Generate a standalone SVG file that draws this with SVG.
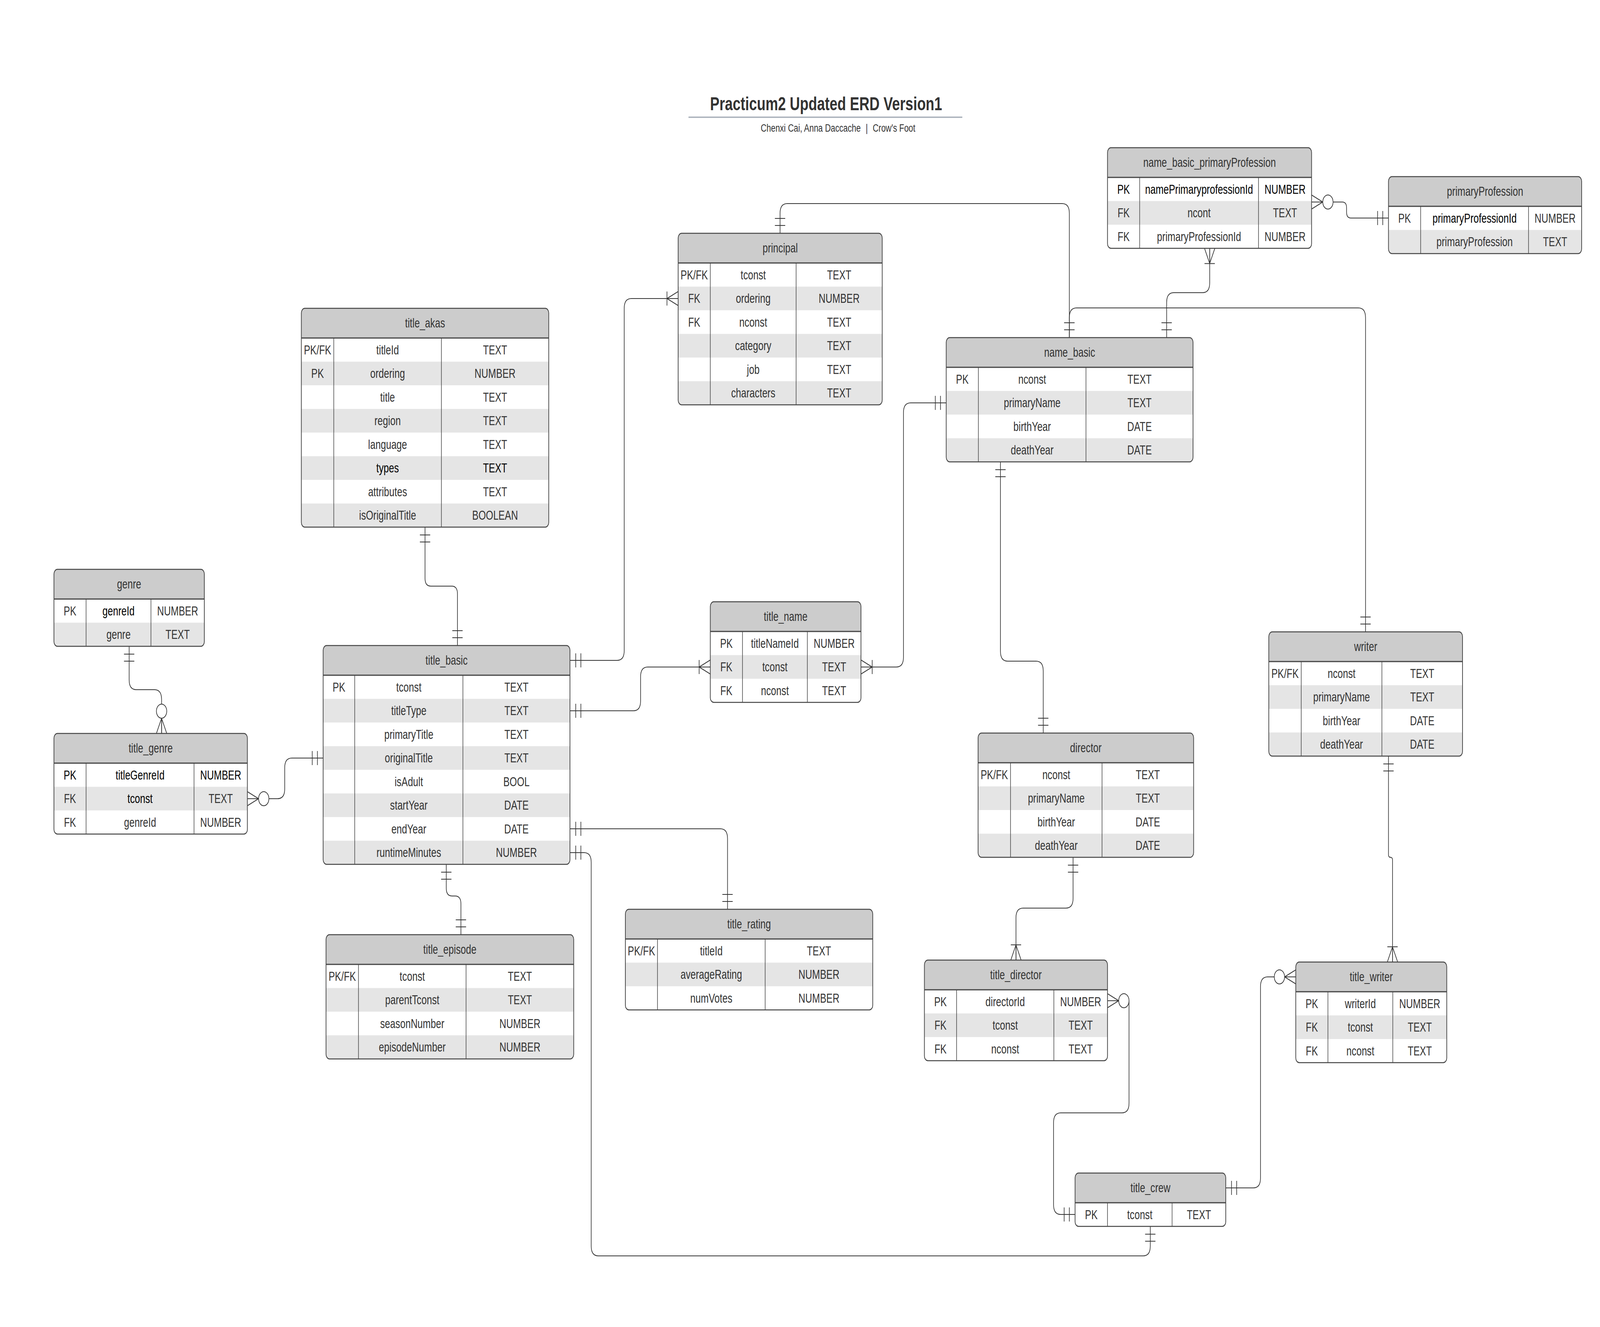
<svg xmlns="http://www.w3.org/2000/svg" width="5575" height="3396" viewBox="0 0 5575 3396" preserveAspectRatio="none">
<style>
svg{width:100vw;height:100vh}
.bg{fill:#fff}
.hd{fill:#ccc}
.alt{fill:#e5e5e5}
.bd{fill:none;stroke:#444;stroke-width:2.5}
.hl{fill:none;stroke:#444;stroke-width:3}
.dv{fill:none;stroke:#444;stroke-width:2}
text{font-family:"Liberation Sans",Arial,sans-serif;fill:#333}
.t{font-size:33px;text-anchor:middle;dominant-baseline:central}
.k{fill:#000}
.cn{fill:none;stroke:#333;stroke-width:2.2}
.mk{fill:none;stroke:#333;stroke-width:2.2}
.mc{fill:#fff;stroke:#333;stroke-width:2.2}
.ttl{font-size:49px;font-weight:bold;text-anchor:middle}
.sub{font-size:28px}
</style>
<defs>
<marker id="one" markerUnits="userSpaceOnUse" markerWidth="100" markerHeight="60" viewBox="-80 -30 100 60" refX="0" refY="0" orient="auto-start-reverse" overflow="visible">
<path class="mk" d="M-20,-18V18M-38,-18V18"/>
</marker>
<marker id="many" markerUnits="userSpaceOnUse" markerWidth="100" markerHeight="60" viewBox="-80 -30 100 60" refX="0" refY="0" orient="auto-start-reverse" overflow="visible">
<path class="mk" d="M0,-18L-39,0L0,18M0,0H-39M-39,-18V18"/>
</marker>
<marker id="zmany" markerUnits="userSpaceOnUse" markerWidth="100" markerHeight="60" viewBox="-80 -30 100 60" refX="0" refY="0" orient="auto-start-reverse" overflow="visible">
<path class="mk" d="M0,-18L-39,0L0,18M0,0H-39"/>
<circle class="mc" cx="-57" cy="0" r="18"/>
</marker>
</defs>
<rect x="0" y="0" width="5575" height="3396" fill="#fff"/>

<g id="title">
<text class="ttl" x="2878.5" y="282">Practicum2 Updated ERD Version1</text>
<line x1="2399" y1="300" x2="3353" y2="300" stroke="#a9b0ba" stroke-width="3.5"/>
<text class="sub"><tspan x="2999" y="337" text-anchor="end">Chenxi Cai, Anna Daccache</tspan><tspan x="3020" y="337" text-anchor="middle">|</tspan><tspan x="3041" y="337">Crow's Foot</tspan></text>
</g>

<g id="connectors">
<path class="cn" marker-start="url(#one)" marker-end="url(#one)" d="M2718,597 L2718,546 Q2718,521 2743,521 L3701,521 Q3726,521 3726,546 L3726,864"/>
<path class="cn" marker-start="url(#one)" marker-end="url(#one)" d="M3726,864 L3726,813 Q3726,788 3751,788 L4733,788 Q4758,788 4758,813 L4758,1617"/>
<path class="cn" marker-start="url(#many)" marker-end="url(#one)" d="M4215,635.5 L4215,724 Q4215,749 4190,749 L4090,749 Q4065,749 4065,774 L4065,864"/>
<path class="cn" marker-start="url(#zmany)" marker-end="url(#one)" d="M4570,517 L4677,517 Q4692,517 4692,532 L4692,543 Q4692,558 4707,558 L4838,558"/>
<path class="cn" marker-start="url(#one)" marker-end="url(#one)" d="M1481,1349 L1481,1480 Q1481,1500 1501,1500 L1574,1500 Q1594,1500 1594,1520 L1594,1652"/>
<path class="cn" marker-start="url(#one)" marker-end="url(#many)" d="M1986,1690 L2150,1690 Q2175,1690 2175,1665 L2175,789 Q2175,764 2200,764 L2363,764"/>
<path class="cn" marker-start="url(#one)" marker-end="url(#many)" d="M1986,1819 L2207,1819 Q2232,1819 2232,1794 L2232,1732 Q2232,1707 2257,1707 L2475,1707"/>
<path class="cn" marker-start="url(#one)" marker-end="url(#many)" d="M3297,1031 L3173,1031 Q3148,1031 3148,1056 L3148,1682 Q3148,1707 3123,1707 L3000,1707"/>
<path class="cn" marker-start="url(#one)" marker-end="url(#one)" d="M3486,1182 L3486,1667 Q3486,1692 3511,1692 L3610,1692 Q3635,1692 3635,1717 L3635,1876"/>
<path class="cn" marker-start="url(#one)" marker-end="url(#many)" d="M3739,2194 L3739,2299 Q3739,2324 3714,2324 L3565,2324 Q3540,2324 3540,2349 L3540,2457"/>
<path class="cn" marker-start="url(#one)" marker-end="url(#many)" d="M4838,1935 L4838,2187 Q4838,2194 4845,2194 Q4852,2194 4852,2201 L4852,2462"/>
<path class="cn" marker-start="url(#zmany)" marker-end="url(#one)" d="M3859,2561 L3934,2561 L3934,2823 Q3934,2848 3909,2848 L3696,2848 Q3671,2848 3671,2873 L3671,3083 Q3671,3108 3696,3108 L3746,3108"/>
<path class="cn" marker-start="url(#zmany)" marker-end="url(#one)" d="M4515,2500 L4417,2500 Q4392,2500 4392,2525 L4392,3015 Q4392,3040 4367,3040 L4271,3040"/>
<path class="cn" marker-start="url(#one)" marker-end="url(#one)" d="M1986,2121 L2510,2121 Q2535,2121 2535,2146 L2535,2327"/>
<path class="cn" marker-start="url(#one)" marker-end="url(#one)" d="M1986,2182 L2035,2182 Q2060,2182 2060,2207 L2060,3189 Q2060,3214 2085,3214 L3983,3214 Q4008,3214 4008,3189 L4008,3138.5"/>
<path class="cn" marker-start="url(#one)" marker-end="url(#one)" d="M1555,2212 L1555,2273 Q1555,2293 1575,2293 L1586,2293 Q1606,2293 1606,2313 L1606,2392"/>
<path class="cn" marker-start="url(#one)" marker-end="url(#zmany)" d="M450,1654 L450,1740 Q450,1765 475,1765 L538,1765 Q563,1765 563,1790 L563,1877"/>
<path class="cn" marker-start="url(#zmany)" marker-end="url(#one)" d="M862,2044 L967,2044 Q992,2044 992,2019 L992,1965 Q992,1940 1017,1940 L1126,1940"/>
</g>

<g id="title_akas">
<clipPath id="c1"><rect x="1050" y="789" width="862" height="560" rx="12"/></clipPath>
<g clip-path="url(#c1)">
<rect class="bg" x="1050" y="789" width="862" height="560"/>
<rect class="hd" x="1050" y="789" width="862" height="76"/>
<rect class="alt" x="1050" y="925.5" width="862" height="60.5"/>
<rect class="alt" x="1050" y="1046.5" width="862" height="60.5"/>
<rect class="alt" x="1050" y="1167.5" width="862" height="60.5"/>
<rect class="alt" x="1050" y="1288.5" width="862" height="60.5"/>
</g>
<path class="dv" d="M1163,865V1349M1538,865V1349"/>
<path class="hl" d="M1050,865H1912"/>
<rect class="bd" x="1050" y="789" width="862" height="560" rx="12"/>
<text class="t" x="1481" y="827">title_akas</text>
<text class="t" x="1106.5" y="895.25">PK/FK</text><text class="t" x="1350.5" y="895.25">titleId</text><text class="t" x="1725" y="895.25">TEXT</text>
<text class="t" x="1106.5" y="955.75">PK</text><text class="t" x="1350.5" y="955.75">ordering</text><text class="t" x="1725" y="955.75">NUMBER</text>
<text class="t" x="1350.5" y="1016.25">title</text><text class="t" x="1725" y="1016.25">TEXT</text>
<text class="t" x="1350.5" y="1076.75">region</text><text class="t" x="1725" y="1076.75">TEXT</text>
<text class="t" x="1350.5" y="1137.25">language</text><text class="t" x="1725" y="1137.25">TEXT</text>
<text class="t k" x="1350.5" y="1197.75">types</text><text class="t k" x="1725" y="1197.75">TEXT</text>
<text class="t" x="1350.5" y="1258.25">attributes</text><text class="t" x="1725" y="1258.25">TEXT</text>
<text class="t" x="1350.5" y="1318.75">isOriginalTitle</text><text class="t" x="1725" y="1318.75">BOOLEAN</text>
</g>

<g id="principal">
<clipPath id="c2"><rect x="2363" y="597" width="711" height="439" rx="12"/></clipPath>
<g clip-path="url(#c2)">
<rect class="bg" x="2363" y="597" width="711" height="439"/>
<rect class="hd" x="2363" y="597" width="711" height="76"/>
<rect class="alt" x="2363" y="733.5" width="711" height="60.5"/>
<rect class="alt" x="2363" y="854.5" width="711" height="60.5"/>
<rect class="alt" x="2363" y="975.5" width="711" height="60.5"/>
</g>
<path class="dv" d="M2475,673V1036M2774,673V1036"/>
<path class="hl" d="M2363,673H3074"/>
<rect class="bd" x="2363" y="597" width="711" height="439" rx="12"/>
<text class="t" x="2718.5" y="635">principal</text>
<text class="t" x="2419" y="703.25">PK/FK</text><text class="t" x="2624.5" y="703.25">tconst</text><text class="t" x="2924" y="703.25">TEXT</text>
<text class="t" x="2419" y="763.75">FK</text><text class="t" x="2624.5" y="763.75">ordering</text><text class="t" x="2924" y="763.75">NUMBER</text>
<text class="t" x="2419" y="824.25">FK</text><text class="t" x="2624.5" y="824.25">nconst</text><text class="t" x="2924" y="824.25">TEXT</text>
<text class="t" x="2624.5" y="884.75">category</text><text class="t" x="2924" y="884.75">TEXT</text>
<text class="t" x="2624.5" y="945.25">job</text><text class="t" x="2924" y="945.25">TEXT</text>
<text class="t" x="2624.5" y="1005.75">characters</text><text class="t" x="2924" y="1005.75">TEXT</text>
</g>

<g id="name_basic">
<clipPath id="c3"><rect x="3297" y="864" width="860" height="318" rx="12"/></clipPath>
<g clip-path="url(#c3)">
<rect class="bg" x="3297" y="864" width="860" height="318"/>
<rect class="hd" x="3297" y="864" width="860" height="76"/>
<rect class="alt" x="3297" y="1000.5" width="860" height="60.5"/>
<rect class="alt" x="3297" y="1121.5" width="860" height="60.5"/>
</g>
<path class="dv" d="M3409,940V1182M3784,940V1182"/>
<path class="hl" d="M3297,940H4157"/>
<rect class="bd" x="3297" y="864" width="860" height="318" rx="12"/>
<text class="t" x="3727" y="902">name_basic</text>
<text class="t" x="3353" y="970.25">PK</text><text class="t" x="3596.5" y="970.25">nconst</text><text class="t" x="3970.5" y="970.25">TEXT</text>
<text class="t" x="3596.5" y="1030.75">primaryName</text><text class="t" x="3970.5" y="1030.75">TEXT</text>
<text class="t" x="3596.5" y="1091.25">birthYear</text><text class="t" x="3970.5" y="1091.25">DATE</text>
<text class="t" x="3596.5" y="1151.75">deathYear</text><text class="t" x="3970.5" y="1151.75">DATE</text>
</g>

<g id="name_basic_primaryProfession">
<clipPath id="c4"><rect x="3859" y="378" width="711" height="257.5" rx="12"/></clipPath>
<g clip-path="url(#c4)">
<rect class="bg" x="3859" y="378" width="711" height="257.5"/>
<rect class="hd" x="3859" y="378" width="711" height="76"/>
<rect class="alt" x="3859" y="514.5" width="711" height="60.5"/>
</g>
<path class="dv" d="M3971,454V635.5M4385,454V635.5"/>
<path class="hl" d="M3859,454H4570"/>
<rect class="bd" x="3859" y="378" width="711" height="257.5" rx="12"/>
<text class="t" x="4214.5" y="416">name_basic_primaryProfession</text>
<text class="t k" x="3915" y="484.25">PK</text><text class="t k" x="4178" y="484.25">namePrimaryprofessionId</text><text class="t k" x="4477.5" y="484.25">NUMBER</text>
<text class="t" x="3915" y="544.75">FK</text><text class="t" x="4178" y="544.75">ncont</text><text class="t" x="4477.5" y="544.75">TEXT</text>
<text class="t" x="3915" y="605.25">FK</text><text class="t" x="4178" y="605.25">primaryProfessionId</text><text class="t" x="4477.5" y="605.25">NUMBER</text>
</g>

<g id="primaryProfession">
<clipPath id="c5"><rect x="4838" y="452" width="673" height="197" rx="12"/></clipPath>
<g clip-path="url(#c5)">
<rect class="bg" x="4838" y="452" width="673" height="197"/>
<rect class="hd" x="4838" y="452" width="673" height="76"/>
<rect class="alt" x="4838" y="588.5" width="673" height="60.5"/>
</g>
<path class="dv" d="M4950,528V649M5326,528V649"/>
<path class="hl" d="M4838,528H5511"/>
<rect class="bd" x="4838" y="452" width="673" height="197" rx="12"/>
<text class="t" x="5174.5" y="490">primaryProfession</text>
<text class="t" x="4894" y="558.25">PK</text><text class="t k" x="5138" y="558.25">primaryProfessionId</text><text class="t" x="5418.5" y="558.25">NUMBER</text>
<text class="t" x="5138" y="618.75">primaryProfession</text><text class="t" x="5418.5" y="618.75">TEXT</text>
</g>

<g id="genre">
<clipPath id="c6"><rect x="188" y="1457" width="524" height="197" rx="12"/></clipPath>
<g clip-path="url(#c6)">
<rect class="bg" x="188" y="1457" width="524" height="197"/>
<rect class="hd" x="188" y="1457" width="524" height="76"/>
<rect class="alt" x="188" y="1593.5" width="524" height="60.5"/>
</g>
<path class="dv" d="M300,1533V1654M526,1533V1654"/>
<path class="hl" d="M188,1533H712"/>
<rect class="bd" x="188" y="1457" width="524" height="197" rx="12"/>
<text class="t" x="450" y="1495">genre</text>
<text class="t" x="244" y="1563.25">PK</text><text class="t k" x="413" y="1563.25">genreId</text><text class="t" x="619" y="1563.25">NUMBER</text>
<text class="t" x="413" y="1623.75">genre</text><text class="t" x="619" y="1623.75">TEXT</text>
</g>

<g id="title_genre">
<clipPath id="c7"><rect x="188" y="1877" width="674" height="257.5" rx="12"/></clipPath>
<g clip-path="url(#c7)">
<rect class="bg" x="188" y="1877" width="674" height="257.5"/>
<rect class="hd" x="188" y="1877" width="674" height="76"/>
<rect class="alt" x="188" y="2013.5" width="674" height="60.5"/>
</g>
<path class="dv" d="M300,1953V2134.5M676,1953V2134.5"/>
<path class="hl" d="M188,1953H862"/>
<rect class="bd" x="188" y="1877" width="674" height="257.5" rx="12"/>
<text class="t" x="525" y="1915">title_genre</text>
<text class="t k" x="244" y="1983.25">PK</text><text class="t k" x="488" y="1983.25">titleGenreId</text><text class="t k" x="769" y="1983.25">NUMBER</text>
<text class="t" x="244" y="2043.75">FK</text><text class="t k" x="488" y="2043.75">tconst</text><text class="t" x="769" y="2043.75">TEXT</text>
<text class="t" x="244" y="2104.25">FK</text><text class="t" x="488" y="2104.25">genreId</text><text class="t" x="769" y="2104.25">NUMBER</text>
</g>

<g id="title_basic">
<clipPath id="c8"><rect x="1126" y="1652" width="860" height="560" rx="12"/></clipPath>
<g clip-path="url(#c8)">
<rect class="bg" x="1126" y="1652" width="860" height="560"/>
<rect class="hd" x="1126" y="1652" width="860" height="76"/>
<rect class="alt" x="1126" y="1788.5" width="860" height="60.5"/>
<rect class="alt" x="1126" y="1909.5" width="860" height="60.5"/>
<rect class="alt" x="1126" y="2030.5" width="860" height="60.5"/>
<rect class="alt" x="1126" y="2151.5" width="860" height="60.5"/>
</g>
<path class="dv" d="M1236,1728V2212M1613,1728V2212"/>
<path class="hl" d="M1126,1728H1986"/>
<rect class="bd" x="1126" y="1652" width="860" height="560" rx="12"/>
<text class="t" x="1556" y="1690">title_basic</text>
<text class="t" x="1181" y="1758.25">PK</text><text class="t" x="1424.5" y="1758.25">tconst</text><text class="t" x="1799.5" y="1758.25">TEXT</text>
<text class="t" x="1424.5" y="1818.75">titleType</text><text class="t" x="1799.5" y="1818.75">TEXT</text>
<text class="t" x="1424.5" y="1879.25">primaryTitle</text><text class="t" x="1799.5" y="1879.25">TEXT</text>
<text class="t" x="1424.5" y="1939.75">originalTitle</text><text class="t" x="1799.5" y="1939.75">TEXT</text>
<text class="t" x="1424.5" y="2000.25">isAdult</text><text class="t" x="1799.5" y="2000.25">BOOL</text>
<text class="t" x="1424.5" y="2060.75">startYear</text><text class="t" x="1799.5" y="2060.75">DATE</text>
<text class="t" x="1424.5" y="2121.25">endYear</text><text class="t" x="1799.5" y="2121.25">DATE</text>
<text class="t" x="1424.5" y="2181.75">runtimeMinutes</text><text class="t" x="1799.5" y="2181.75">NUMBER</text>
</g>

<g id="title_name">
<clipPath id="c9"><rect x="2475" y="1540" width="525" height="257.5" rx="12"/></clipPath>
<g clip-path="url(#c9)">
<rect class="bg" x="2475" y="1540" width="525" height="257.5"/>
<rect class="hd" x="2475" y="1540" width="525" height="76"/>
<rect class="alt" x="2475" y="1676.5" width="525" height="60.5"/>
</g>
<path class="dv" d="M2587,1616V1797.5M2813,1616V1797.5"/>
<path class="hl" d="M2475,1616H3000"/>
<rect class="bd" x="2475" y="1540" width="525" height="257.5" rx="12"/>
<text class="t" x="2737.5" y="1578">title_name</text>
<text class="t" x="2531" y="1646.25">PK</text><text class="t" x="2700" y="1646.25">titleNameId</text><text class="t" x="2906.5" y="1646.25">NUMBER</text>
<text class="t" x="2531" y="1706.75">FK</text><text class="t" x="2700" y="1706.75">tconst</text><text class="t" x="2906.5" y="1706.75">TEXT</text>
<text class="t" x="2531" y="1767.25">FK</text><text class="t" x="2700" y="1767.25">nconst</text><text class="t" x="2906.5" y="1767.25">TEXT</text>
</g>

<g id="title_episode">
<clipPath id="c10"><rect x="1136" y="2392" width="863" height="318" rx="12"/></clipPath>
<g clip-path="url(#c10)">
<rect class="bg" x="1136" y="2392" width="863" height="318"/>
<rect class="hd" x="1136" y="2392" width="863" height="76"/>
<rect class="alt" x="1136" y="2528.5" width="863" height="60.5"/>
<rect class="alt" x="1136" y="2649.5" width="863" height="60.5"/>
</g>
<path class="dv" d="M1249,2468V2710M1624,2468V2710"/>
<path class="hl" d="M1136,2468H1999"/>
<rect class="bd" x="1136" y="2392" width="863" height="318" rx="12"/>
<text class="t" x="1567.5" y="2430">title_episode</text>
<text class="t" x="1192.5" y="2498.25">PK/FK</text><text class="t" x="1436.5" y="2498.25">tconst</text><text class="t" x="1811.5" y="2498.25">TEXT</text>
<text class="t" x="1436.5" y="2558.75">parentTconst</text><text class="t" x="1811.5" y="2558.75">TEXT</text>
<text class="t" x="1436.5" y="2619.25">seasonNumber</text><text class="t" x="1811.5" y="2619.25">NUMBER</text>
<text class="t" x="1436.5" y="2679.75">episodeNumber</text><text class="t" x="1811.5" y="2679.75">NUMBER</text>
</g>

<g id="title_rating">
<clipPath id="c11"><rect x="2179" y="2327" width="862" height="257.5" rx="12"/></clipPath>
<g clip-path="url(#c11)">
<rect class="bg" x="2179" y="2327" width="862" height="257.5"/>
<rect class="hd" x="2179" y="2327" width="862" height="76"/>
<rect class="alt" x="2179" y="2463.5" width="862" height="60.5"/>
</g>
<path class="dv" d="M2291,2403V2584.5M2666,2403V2584.5"/>
<path class="hl" d="M2179,2403H3041"/>
<rect class="bd" x="2179" y="2327" width="862" height="257.5" rx="12"/>
<text class="t" x="2610" y="2365">title_rating</text>
<text class="t" x="2235" y="2433.25">PK/FK</text><text class="t" x="2478.5" y="2433.25">titleId</text><text class="t" x="2853.5" y="2433.25">TEXT</text>
<text class="t" x="2478.5" y="2493.75">averageRating</text><text class="t" x="2853.5" y="2493.75">NUMBER</text>
<text class="t" x="2478.5" y="2554.25">numVotes</text><text class="t" x="2853.5" y="2554.25">NUMBER</text>
</g>

<g id="writer">
<clipPath id="c12"><rect x="4421" y="1617" width="675" height="318" rx="12"/></clipPath>
<g clip-path="url(#c12)">
<rect class="bg" x="4421" y="1617" width="675" height="318"/>
<rect class="hd" x="4421" y="1617" width="675" height="76"/>
<rect class="alt" x="4421" y="1753.5" width="675" height="60.5"/>
<rect class="alt" x="4421" y="1874.5" width="675" height="60.5"/>
</g>
<path class="dv" d="M4534,1693V1935M4815,1693V1935"/>
<path class="hl" d="M4421,1693H5096"/>
<rect class="bd" x="4421" y="1617" width="675" height="318" rx="12"/>
<text class="t" x="4758.5" y="1655">writer</text>
<text class="t" x="4477.5" y="1723.25">PK/FK</text><text class="t" x="4674.5" y="1723.25">nconst</text><text class="t" x="4955.5" y="1723.25">TEXT</text>
<text class="t" x="4674.5" y="1783.75">primaryName</text><text class="t" x="4955.5" y="1783.75">TEXT</text>
<text class="t" x="4674.5" y="1844.25">birthYear</text><text class="t" x="4955.5" y="1844.25">DATE</text>
<text class="t" x="4674.5" y="1904.75">deathYear</text><text class="t" x="4955.5" y="1904.75">DATE</text>
</g>

<g id="director">
<clipPath id="c13"><rect x="3408" y="1876" width="751" height="318" rx="12"/></clipPath>
<g clip-path="url(#c13)">
<rect class="bg" x="3408" y="1876" width="751" height="318"/>
<rect class="hd" x="3408" y="1876" width="751" height="76"/>
<rect class="alt" x="3408" y="2012.5" width="751" height="60.5"/>
<rect class="alt" x="3408" y="2133.5" width="751" height="60.5"/>
</g>
<path class="dv" d="M3521,1952V2194M3840,1952V2194"/>
<path class="hl" d="M3408,1952H4159"/>
<rect class="bd" x="3408" y="1876" width="751" height="318" rx="12"/>
<text class="t" x="3783.5" y="1914">director</text>
<text class="t" x="3464.5" y="1982.25">PK/FK</text><text class="t" x="3680.5" y="1982.25">nconst</text><text class="t" x="3999.5" y="1982.25">TEXT</text>
<text class="t" x="3680.5" y="2042.75">primaryName</text><text class="t" x="3999.5" y="2042.75">TEXT</text>
<text class="t" x="3680.5" y="2103.25">birthYear</text><text class="t" x="3999.5" y="2103.25">DATE</text>
<text class="t" x="3680.5" y="2163.75">deathYear</text><text class="t" x="3999.5" y="2163.75">DATE</text>
</g>

<g id="title_director">
<clipPath id="c14"><rect x="3221" y="2457" width="638" height="257.5" rx="12"/></clipPath>
<g clip-path="url(#c14)">
<rect class="bg" x="3221" y="2457" width="638" height="257.5"/>
<rect class="hd" x="3221" y="2457" width="638" height="76"/>
<rect class="alt" x="3221" y="2593.5" width="638" height="60.5"/>
</g>
<path class="dv" d="M3333,2533V2714.5M3672,2533V2714.5"/>
<path class="hl" d="M3221,2533H3859"/>
<rect class="bd" x="3221" y="2457" width="638" height="257.5" rx="12"/>
<text class="t" x="3540" y="2495">title_director</text>
<text class="t" x="3277" y="2563.25">PK</text><text class="t" x="3502.5" y="2563.25">directorId</text><text class="t" x="3765.5" y="2563.25">NUMBER</text>
<text class="t" x="3277" y="2623.75">FK</text><text class="t" x="3502.5" y="2623.75">tconst</text><text class="t" x="3765.5" y="2623.75">TEXT</text>
<text class="t" x="3277" y="2684.25">FK</text><text class="t" x="3502.5" y="2684.25">nconst</text><text class="t" x="3765.5" y="2684.25">TEXT</text>
</g>

<g id="title_writer">
<clipPath id="c15"><rect x="4515" y="2462" width="526" height="257.5" rx="12"/></clipPath>
<g clip-path="url(#c15)">
<rect class="bg" x="4515" y="2462" width="526" height="257.5"/>
<rect class="hd" x="4515" y="2462" width="526" height="76"/>
<rect class="alt" x="4515" y="2598.5" width="526" height="60.5"/>
</g>
<path class="dv" d="M4627,2538V2719.5M4853,2538V2719.5"/>
<path class="hl" d="M4515,2538H5041"/>
<rect class="bd" x="4515" y="2462" width="526" height="257.5" rx="12"/>
<text class="t" x="4778" y="2500">title_writer</text>
<text class="t" x="4571" y="2568.25">PK</text><text class="t" x="4740" y="2568.25">writerId</text><text class="t" x="4947" y="2568.25">NUMBER</text>
<text class="t" x="4571" y="2628.75">FK</text><text class="t" x="4740" y="2628.75">tconst</text><text class="t" x="4947" y="2628.75">TEXT</text>
<text class="t" x="4571" y="2689.25">FK</text><text class="t" x="4740" y="2689.25">nconst</text><text class="t" x="4947" y="2689.25">TEXT</text>
</g>

<g id="title_crew">
<clipPath id="c16"><rect x="3746" y="3002" width="525" height="136.5" rx="12"/></clipPath>
<g clip-path="url(#c16)">
<rect class="bg" x="3746" y="3002" width="525" height="136.5"/>
<rect class="hd" x="3746" y="3002" width="525" height="76"/>
</g>
<path class="dv" d="M3859,3078V3138.5M4084,3078V3138.5"/>
<path class="hl" d="M3746,3078H4271"/>
<rect class="bd" x="3746" y="3002" width="525" height="136.5" rx="12"/>
<text class="t" x="4008.5" y="3040">title_crew</text>
<text class="t" x="3802.5" y="3108.25">PK</text><text class="t" x="3971.5" y="3108.25">tconst</text><text class="t" x="4177.5" y="3108.25">TEXT</text>
</g>
</svg>
